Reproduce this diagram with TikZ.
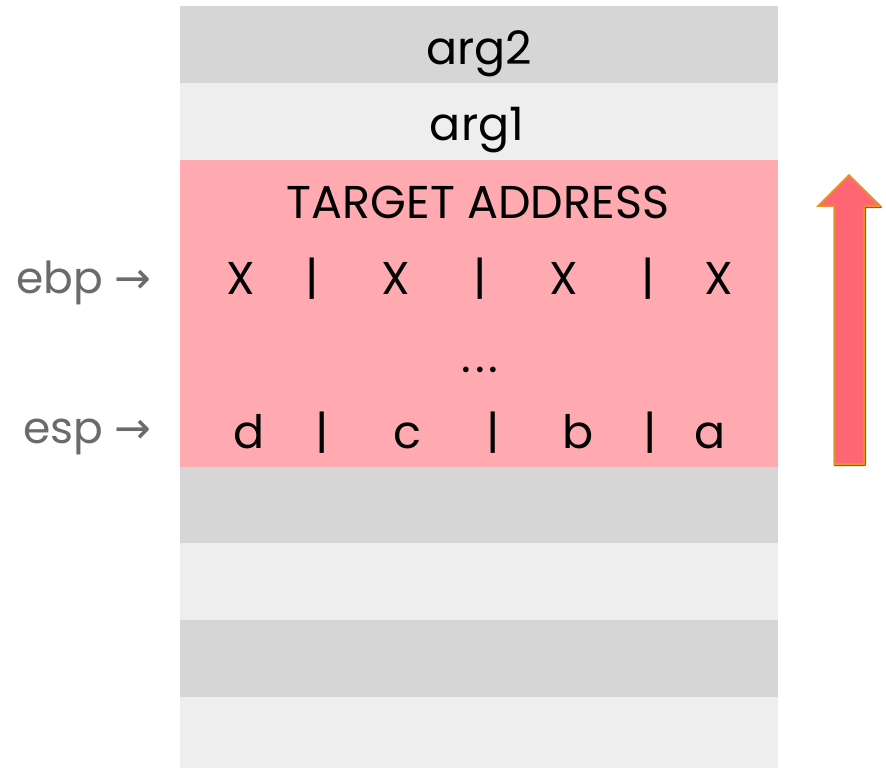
\documentclass[tikz,border=0pt]{standalone}
\usepackage{fontspec}
\setmainfont{Poppins}
\newfontfamily\symfont{DejaVu Sans}
\definecolor{rowdark}{HTML}{D6D6D6}
\definecolor{rowlight}{HTML}{EEEEEE}
\definecolor{hot}{HTML}{FFAAB0}
\definecolor{regtext}{HTML}{6B6B6B}
\definecolor{arrowfill}{HTML}{FF6673}
\definecolor{arrowedge}{HTML}{E8961E}
\definecolor{arrowshade}{HTML}{9A5A10}
\tikzset{
  cell/.style={font=\fontsize{46}{46}\selectfont, text=black, inner sep=0pt, anchor=base},
  reglabel/.style={font=\fontsize{44}{44}\selectfont, text=regtext, inner sep=0pt, anchor=base east},
}
\begin{document}
\begin{tikzpicture}[x=1pt,y=-1pt]
\useasboundingbox (0,0) rectangle (886,768);
% stack slots
\fill[rowdark]  (180,6)   rectangle (778,83);
\fill[rowlight] (180,83)  rectangle (778,160);
\fill[hot]      (180,160) rectangle (778,467);
\fill[rowdark]  (180,467) rectangle (778,543);
\fill[rowlight] (180,543) rectangle (778,620);
\fill[rowdark]  (180,620) rectangle (778,697);
\fill[rowlight] (180,697) rectangle (778,768);
% slot contents (placed on their baselines)
\node[cell] (arg2) at (479,64) {arg2};
\node[cell] (arg1) at (477,140) {arg1};
\node[cell] (ret) at (478,218) {TARGET ADDRESS};
\foreach \x/\t [count=\i] in {241/X,312/|,396/X,480/|,564/X,648/|,719/X}
  \node[cell] (x\i) at (\x,294) {\t};
\node[cell] (dots) at (480,372) {.\hspace{4pt}.\hspace{4pt}.};
\foreach \x/\t [count=\i] in {249/d,322/|,407/c,493/|,578/b,650/|,710/a}
  \node[cell] (d\i) at (\x,448) {\t};
% register labels
\node[reglabel] (ebp) at (152,293) {ebp {\symfont →}};
\node[reglabel] (esp) at (152,443) {esp {\symfont →}};
% growth direction arrow
\draw[arrowshade, line width=2pt, line join=round]
  (865,207) -- (881,207) -- (850,177) (865,207) -- (865,465) -- (834,465);
\draw[arrowedge, line width=1.5pt, line join=miter, fill=arrowfill]
  (834,464) -- (834,206) -- (818,206) -- (849,175) -- (880,206) -- (864,206) -- (864,464) -- cycle;
\end{tikzpicture}
\end{document}
